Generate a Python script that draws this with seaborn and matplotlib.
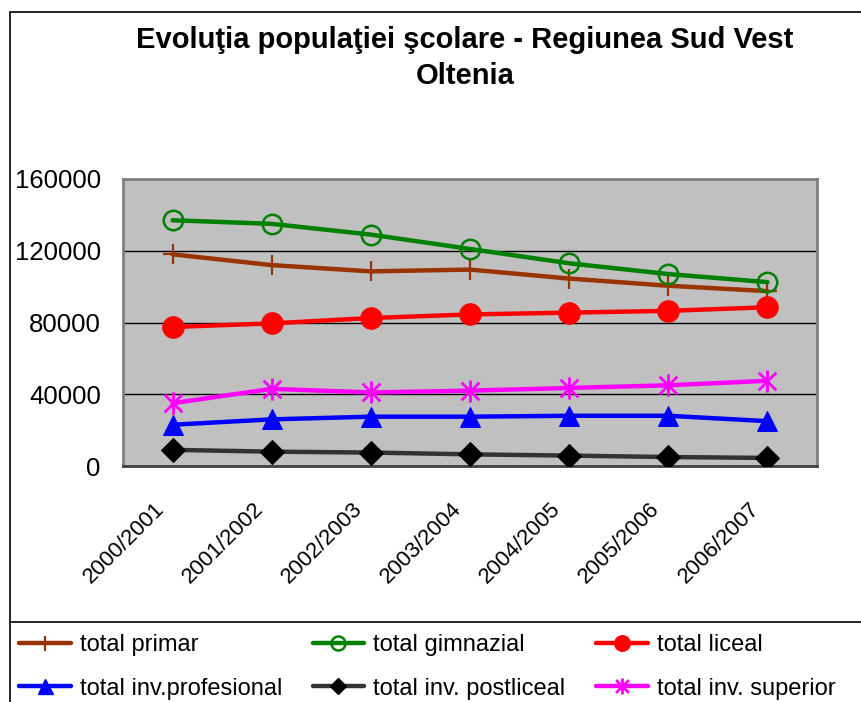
import numpy as np
import pandas as pd
import seaborn as sns
import matplotlib.pyplot as plt
from matplotlib.path import Path
from matplotlib.patches import Rectangle
from matplotlib.lines import Line2D
from matplotlib.transforms import ScaledTranslation

years = ["2000/2001", "2001/2002", "2002/2003", "2003/2004",
         "2004/2005", "2005/2006", "2006/2007"]

total_primar = [118000, 112000, 108500, 109500, 104500, 100500, 97500]
total_gimnazial = [137000, 135000, 129000, 121000, 113000, 107000, 102500]
total_liceal = [77500, 79500, 82500, 84500, 85500, 86500, 88500]
total_profesional = [23000, 26000, 27500, 27500, 28000, 28000, 25000]
total_postliceal = [9000, 8000, 7500, 6500, 5800, 5000, 4500]
total_superior = [35000, 43000, 41000, 42000, 43500, 45000, 47500]

yticks = [0, 40000, 80000, 120000, 160000]

# excel-like star marker: vertical bar + X
star = Path([(0, -1), (0, 1), (-0.8, -0.8), (0.8, 0.8), (-0.8, 0.8), (0.8, -0.8)],
            [Path.MOVETO, Path.LINETO, Path.MOVETO, Path.LINETO, Path.MOVETO, Path.LINETO])

series = [
    ("total primar", total_primar, "#993300",
     dict(marker="+", ms=15, mew=1.6, mec="#993300")),
    ("total gimnazial", total_gimnazial, "#008000",
     dict(marker="o", ms=14, mfc="none", mec="#008000", mew=1.8)),
    ("total liceal", total_liceal, "#FF0000",
     dict(marker="o", ms=15.5, mec="#FF0000")),
    ("total inv.profesional", total_profesional, "#0000FF",
     dict(marker="^", ms=15, mec="#0000FF")),
    ("total inv. postliceal", total_postliceal, "#333333",
     dict(marker="D", ms=12, mfc="#000000", mec="#000000")),
    ("total inv. superior", total_superior, "#FF00FF",
     dict(marker=star, ms=16, mew=2, mec="#FF00FF")),
]

sns.set_theme(style="white")
plt.rcParams['font.family'] = ['Liberation Sans', 'DejaVu Sans']
plt.rcParams['text.color'] = 'black'
plt.rcParams['xtick.color'] = 'black'
plt.rcParams['ytick.color'] = 'black'

fig = plt.figure(figsize=(8.61, 7.02), dpi=100)
ax = fig.add_axes([123 / 861, 1 - 466 / 702, (817 - 123) / 861, (466 - 179) / 702])
ax.set_facecolor("#C0C0C0")

x = np.arange(len(years))
handles = []
for name, vals, lc, mk in series:
    sns.lineplot(x=x, y=vals, ax=ax, color=lc, lw=3.2, zorder=3, **mk)
    handles.append(Line2D([], [], color=lc, lw=3.2, **{**mk, "ms": mk["ms"] * 0.72}))

ax.set_xlim(-0.5, len(years) - 0.5)
ax.set_ylim(0, 160000)
ax.set_yticks(yticks)
ax.set_yticklabels([str(v) for v in yticks], fontsize=18.5)
ax.set_xticks(np.arange(len(years) + 1) - 0.5)
ax.set_xticklabels([])
ax.set_xticks(x, minor=True)
ax.set_xticklabels(years, minor=True, rotation=45, ha="right", va="top",
                   rotation_mode="anchor", fontsize=16)
ax.tick_params(axis="x", which="minor", length=0, pad=23)
ax.tick_params(axis="x", which="major", length=7, width=1.2, color="#555555", direction="out")
ax.tick_params(axis="y", length=7, width=1.2, color="#555555", direction="out", pad=9)
shift = ScaledTranslation(-0.19, 0, fig.dpi_scale_trans)
for lab in ax.get_xticklabels(minor=True):
    lab.set_transform(lab.get_transform() + shift)

for v in yticks[1:-1]:
    ax.axhline(v, color="black", lw=1, zorder=1)
for side in ["top", "right", "left"]:
    ax.spines[side].set_visible(True)
    ax.spines[side].set_color("#808080")
    ax.spines[side].set_linewidth(2)
ax.spines["bottom"].set_color("#404040")
ax.spines["bottom"].set_linewidth(2)
ax.set_xlabel("")
ax.set_ylabel("")

fig.text(465 / 861, 1 - 58 / 702, "Evoluţia populaţiei şcolare - Regiunea Sud Vest\nOltenia",
         ha="center", va="center", fontsize=21, fontweight="bold", linespacing=1.36)

# outer chart frame and legend box
fig.patches.append(Rectangle((10 / 861, -0.1), 1.2, 1 - 12 / 702 + 0.1,
                             transform=fig.transFigure, fill=False, ec="black", lw=1.2))
fig.add_artist(Line2D([10 / 861, 1], [1 - 622 / 702] * 2, transform=fig.transFigure,
                      color="black", lw=1.2))

# legend filled row by row, like the original
order = [0, 3, 1, 4, 2, 5]
fig.legend(handles=[handles[i] for i in order], labels=[series[i][0] for i in order],
           ncol=3, loc="upper left", bbox_to_anchor=(19 / 861, 1 - 634 / 702),
           frameon=False, fontsize=17, handlelength=2.2, handletextpad=0.38,
           columnspacing=1.28, labelspacing=0.92, borderaxespad=0, borderpad=0)

fig.savefig("out.png", dpi=100)
